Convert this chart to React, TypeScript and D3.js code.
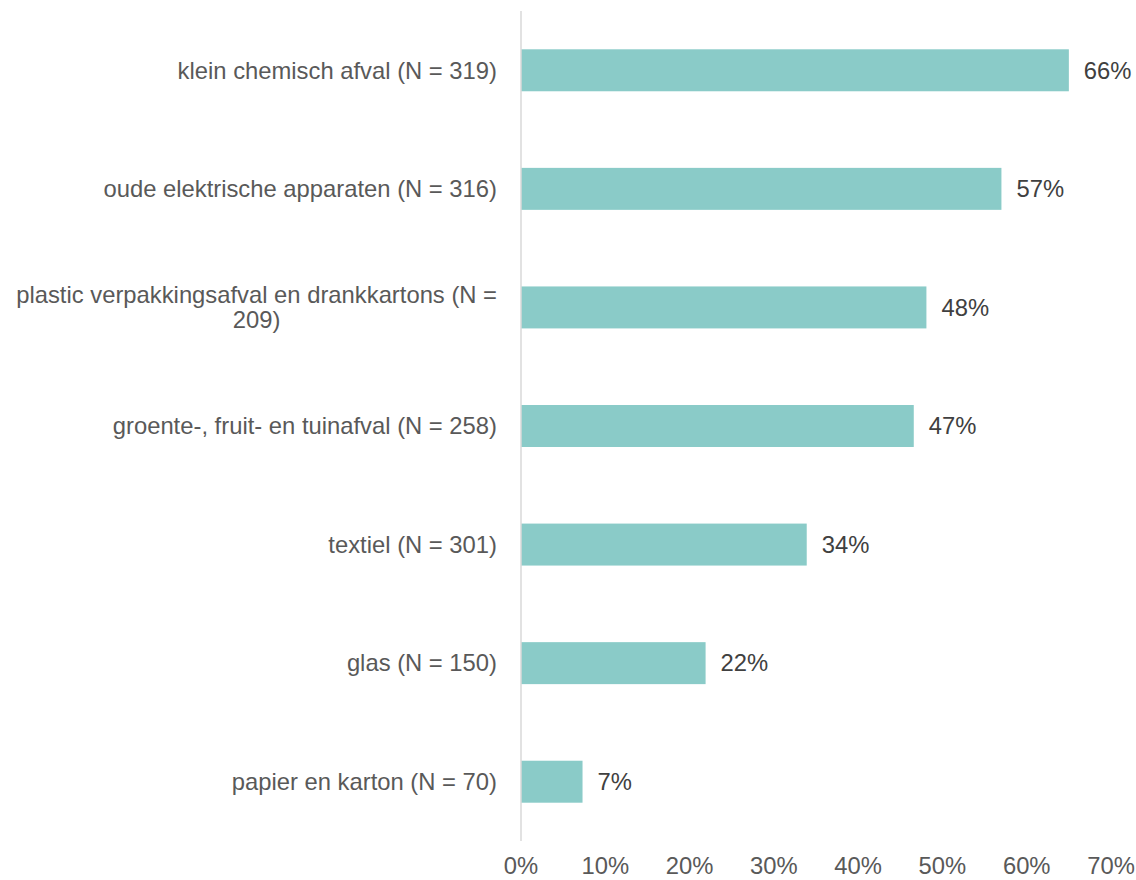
import React, { useEffect, useRef } from "react";
import * as d3 from "d3";

const categories: string[][] = [
  ["klein chemisch afval (N = 319)"],
  ["oude elektrische apparaten (N = 316)"],
  ["plastic verpakkingsafval en drankkartons (N =", "209)"],
  ["groente-, fruit- en tuinafval (N = 258)"],
  ["textiel (N = 301)"],
  ["glas (N = 150)"],
  ["papier en karton (N = 70)"],
];
const values: number[] = [0.65, 0.57, 0.481, 0.466, 0.339, 0.219, 0.073];
const valueLabels: string[] = ["66%", "57%", "48%", "47%", "34%", "22%", "7%"];
const xTicks: number[] = [0, 0.1, 0.2, 0.3, 0.4, 0.5, 0.6, 0.7];

const W = 1136;
const H = 880;
const FONT = "'Liberation Sans', Arial, sans-serif";
const FS = 23.8;
const TEXT = "#595959";
const VALUE_TEXT = "#404040";
const BAR = "#8ACBC8";

export default function App() {
  const ref = useRef<SVGSVGElement>(null);

  useEffect(() => {
    const svg = d3.select(ref.current);
    svg.selectAll("*").remove();

    const keys = categories.map((_, i) => String(i));
    const x = d3.scaleLinear().domain([0, 0.7]).range([521, 1111]);
    const y = d3
      .scaleBand<string>()
      .domain(keys)
      .range([11, 841])
      .paddingInner(0.646)
      .paddingOuter(0.323);

    // bars
    svg
      .append("g")
      .selectAll("rect")
      .data(values)
      .join("rect")
      .attr("x", x(0))
      .attr("y", (_, i) => y(keys[i])!)
      .attr("width", (d) => x(d) - x(0))
      .attr("height", y.bandwidth())
      .attr("fill", BAR);

    // axis line
    svg
      .append("line")
      .attr("x1", x(0))
      .attr("x2", x(0))
      .attr("y1", 11)
      .attr("y2", 841)
      .attr("stroke", "#D9D9D9")
      .attr("stroke-width", 1.5);

    // value labels
    svg
      .append("g")
      .selectAll("text")
      .data(values)
      .join("text")
      .attr("x", (d) => x(d) + 15)
      .attr("y", (_, i) => y(keys[i])! + y.bandwidth() / 2)
      .attr("dy", "0.35em")
      .attr("font-family", FONT)
      .attr("font-size", FS)
      .attr("fill", VALUE_TEXT)
      .text((_, i) => valueLabels[i]);

    // category labels
    const labelX = 497;
    const lineH = 25;
    categories.forEach((lines, i) => {
      const cy = y(keys[i])! + y.bandwidth() / 2;
      const top = cy - ((lines.length - 1) * lineH) / 2;
      const g = svg.append("g");
      const first = g
        .append("text")
        .attr("x", labelX)
        .attr("y", top)
        .attr("dy", "0.35em")
        .attr("text-anchor", "end")
        .attr("font-family", FONT)
        .attr("font-size", FS)
        .attr("fill", TEXT)
        .text(lines[0]);
      if (lines.length > 1) {
        const w = (first.node() as SVGTextElement).getComputedTextLength();
        const center = labelX - w / 2;
        lines.slice(1).forEach((ln, j) => {
          g.append("text")
            .attr("x", center)
            .attr("y", top + (j + 1) * lineH)
            .attr("dy", "0.35em")
            .attr("text-anchor", "middle")
            .attr("font-family", FONT)
            .attr("font-size", FS)
            .attr("fill", TEXT)
            .text(ln);
        });
      }
    });

    // x tick labels
    svg
      .append("g")
      .selectAll("text")
      .data(xTicks)
      .join("text")
      .attr("x", (d) => x(d))
      .attr("y", 874)
      .attr("text-anchor", "middle")
      .attr("font-family", FONT)
      .attr("font-size", FS)
      .attr("fill", TEXT)
      .text((d) => d3.format(".0%")(d));
  }, []);

  return (
    <svg
      ref={ref}
      width={W}
      height={H}
      style={{ position: "absolute", left: 0, top: 0, background: "#fff" }}
    />
  );
}
